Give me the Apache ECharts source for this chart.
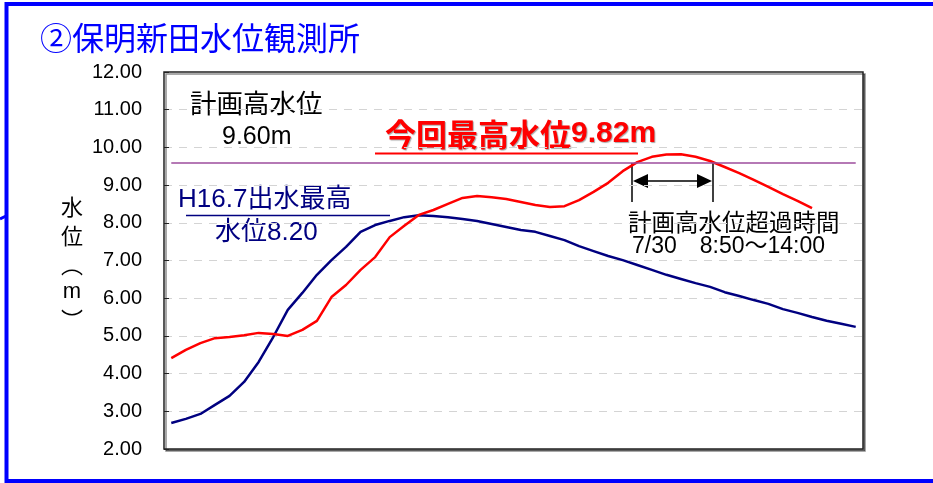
<!DOCTYPE html>
<html>
<head>
<meta charset="utf-8">
<script src="https://cdn.jsdelivr.net/npm/echarts@6/dist/echarts.min.js"></script>
<style>
html,body{margin:0;padding:0;background:#fff;}
#chart{width:933px;height:483px;}
</style>
</head>
<body>
<div id="chart"></div>
<script>
// Hourly time steps (x axis, unlabeled)
const hours = Array.from({length: 48}, (_, i) => String(i + 1));

// H16.7 flood water level (m)
const levelH16 = [2.69,2.80,2.93,3.17,3.41,3.78,4.31,4.97,5.69,6.14,
                  6.62,7.01,7.36,7.76,7.94,8.05,8.15,8.20,8.18,8.15,
                  8.10,8.05,7.97,7.89,7.81,7.76,7.65,7.54,7.38,7.25,
                  7.12,7.01,6.88,6.75,6.62,6.51,6.40,6.30,6.16,6.06,
                  5.95,5.85,5.71,5.61,5.50,5.40,5.32,5.24];

// Current flood water level (m)
const levelNow = [4.41,4.63,4.81,4.94,4.97,5.02,5.08,5.05,5.00,5.16,
                  5.40,6.03,6.35,6.75,7.09,7.62,7.92,8.21,8.34,8.50,
                  8.66,8.71,8.68,8.63,8.55,8.47,8.42,8.44,8.60,8.82,
                  9.06,9.37,9.61,9.75,9.81,9.82,9.75,9.64,9.48,9.32,
                  9.14,8.95,8.76,8.58,8.39,null,null,null];

// Planned high water level (m)
const planHigh = 9.60;

// Y axis ticks
const yMin = 2, yMax = 12, yStep = 1;

const LATIN = "'Liberation Sans', 'Noto Sans CJK JP', sans-serif";
const CJK = "'Noto Sans CJK JP', 'Liberation Sans', sans-serif";

const chart = echarts.init(document.getElementById('chart'));

const graphics = [
  // outer frame
  {type: 'rect', shape: {x: 6.5, y: 4, width: 960, height: 477},
   style: {fill: 'none', stroke: '#0000ff', lineWidth: 4}, z: 100},
  {type: 'line', shape: {x1: 0, y1: 219, x2: 6, y2: 216},
   style: {stroke: '#0000ff', lineWidth: 3}, z: 100},
  // title
  {type: 'text', x: 40, y: 38,
   style: {text: '②保明新田水位観測所', font: '32px ' + CJK, fill: '#0000ff', textVerticalAlign: 'middle'}},
  // y-axis name, stacked vertically
  {type: 'text', x: 72, y: 207, style: {text: '水', font: '22px ' + CJK, fill: '#000', textAlign: 'center', textVerticalAlign: 'middle'}},
  {type: 'text', x: 72, y: 236, style: {text: '位', font: '22px ' + CJK, fill: '#000', textAlign: 'center', textVerticalAlign: 'middle'}},
  {type: 'text', x: 72, y: 265, style: {text: '︵', font: '22px ' + CJK, fill: '#000', textAlign: 'center', textVerticalAlign: 'middle'}},
  {type: 'text', x: 72, y: 292, style: {text: 'm', font: '22px ' + LATIN, fill: '#000', textAlign: 'center', textVerticalAlign: 'middle'}},
  {type: 'text', x: 72, y: 320, style: {text: '︶', font: '22px ' + CJK, fill: '#000', textAlign: 'center', textVerticalAlign: 'middle'}},
  // planned high water level note
  {type: 'text', x: 190, y: 103, style: {text: '計画高水位', font: '26.5px ' + CJK, fill: '#000', textVerticalAlign: 'middle'}},
  {type: 'text', x: 222, y: 137, style: {text: '9.60m', font: '25px ' + LATIN, fill: '#000', textVerticalAlign: 'middle'}},
  // current peak note
  {type: 'text', x: 385, y: 134,
   style: {
     text: '{c|今回最高水位}{n|9.82m}', textVerticalAlign: 'middle',
     rich: {
       c: {fontFamily: CJK, fontSize: 31, fontWeight: 'bold', fill: '#ff0000',
           textShadowColor: 'rgba(0,0,0,0.35)', textShadowOffsetX: 1, textShadowOffsetY: 1, textShadowBlur: 1},
       n: {fontFamily: LATIN, fontSize: 30, fontWeight: 'bold', fill: '#ff0000',
           textShadowColor: 'rgba(0,0,0,0.35)', textShadowOffsetX: 1, textShadowOffsetY: 1, textShadowBlur: 1}
     }
   }},
  {type: 'line', shape: {x1: 375, y1: 153.5, x2: 638, y2: 153.5}, style: {stroke: '#ff0000', lineWidth: 2}},
  // H16.7 peak note
  {type: 'text', x: 178, y: 200, style: {text: 'H16.7出水最高', font: '26px ' + LATIN, fill: '#000080', textVerticalAlign: 'middle'}},
  {type: 'line', shape: {x1: 186, y1: 215.5, x2: 390, y2: 215.5}, style: {stroke: '#000080', lineWidth: 1.5}},
  {type: 'text', x: 215, y: 233, style: {text: '水位8.20', font: '26px ' + LATIN, fill: '#000080', textVerticalAlign: 'middle'}},
  // exceedance span
  {type: 'line', shape: {x1: 632, y1: 163, x2: 632, y2: 202}, style: {stroke: '#000', lineWidth: 1.5}},
  {type: 'line', shape: {x1: 713, y1: 163, x2: 713, y2: 202}, style: {stroke: '#000', lineWidth: 1.5}},
  {type: 'line', shape: {x1: 640, y1: 181, x2: 705, y2: 181}, style: {stroke: '#000', lineWidth: 1.5}},
  {type: 'polygon', shape: {points: [[633, 181], [648, 174], [648, 188]]}, style: {fill: '#000'}},
  {type: 'polygon', shape: {points: [[712, 181], [697, 174], [697, 188]]}, style: {fill: '#000'}},
  {type: 'text', x: 628, y: 222, style: {text: '計画高水位超過時間', font: '23.5px ' + CJK, fill: '#000', textVerticalAlign: 'middle'}},
  {type: 'text', x: 632, y: 247, style: {text: '7/30　8:50～14:00', font: '23px ' + LATIN, fill: '#000', textVerticalAlign: 'middle'}}
];

chart.setOption({
  animation: false,
  backgroundColor: '#fff',
  grid: {
    left: 164, top: 72, right: 70, bottom: 34,
    show: true, backgroundColor: '#fff', borderColor: '#222', borderWidth: 1.5,
    shadowColor: 'rgba(0,0,0,0.45)', shadowOffsetX: 2, shadowOffsetY: 2, shadowBlur: 0
  },
  xAxis: {
    type: 'category', data: hours, boundaryGap: true,
    axisLine: {show: false}, axisTick: {show: false}, axisLabel: {show: false},
    splitLine: {show: false}
  },
  yAxis: {
    type: 'value', min: yMin, max: yMax, interval: yStep,
    axisLine: {show: false},
    axisTick: {show: true, inside: true, length: 5, lineStyle: {color: '#222', width: 1}},
    axisLabel: {
      formatter: v => v.toFixed(2), color: '#000', fontSize: 20,
      fontFamily: 'Liberation Sans', margin: 22
    },
    splitLine: {show: true, showMinLine: false, showMaxLine: false,
                lineStyle: {color: '#d4d4d4', type: [8, 7], width: 1}}
  },
  series: [
    {
      name: 'H16.7', type: 'line', data: levelH16, symbol: 'none', smooth: false,
      lineStyle: {color: '#000080', width: 2.5}, z: 3,
      markLine: {
        silent: true, symbol: ['none', 'none'], label: {show: false},
        lineStyle: {color: '#9c4d9c', width: 1.5, type: 'solid'},
        data: [[{coord: [hours[0], planHigh]}, {coord: [hours[hours.length - 1], planHigh]}]]
      }
    },
    {
      name: '今回', type: 'line', data: levelNow, symbol: 'none', smooth: false,
      lineStyle: {color: '#ff0000', width: 2.5}, z: 4
    }
  ],
  graphic: graphics
});
</script>
</body>
</html>
